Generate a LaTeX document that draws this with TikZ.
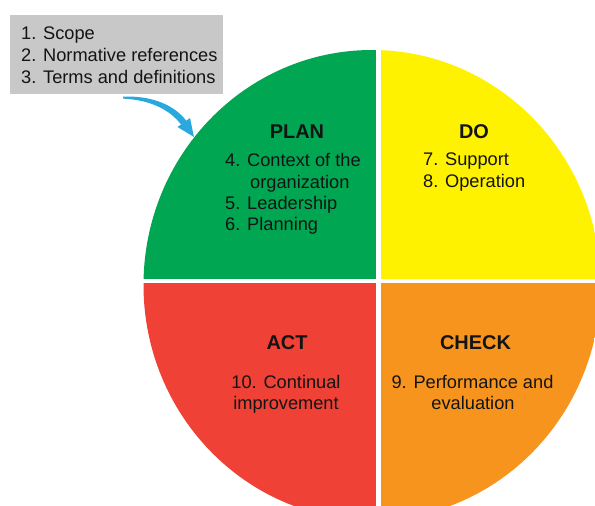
\documentclass[tikz,border=0pt]{standalone}
\usepackage{fontspec}
\setmainfont{Liberation Sans}
\definecolor{plangreen}{HTML}{00A651}
\definecolor{doyellow}{HTML}{FFF200}
\definecolor{actred}{HTML}{EF4136}
\definecolor{checkorange}{HTML}{F7941D}
\definecolor{boxgrey}{HTML}{C8C8C8}
\definecolor{arrowblue}{HTML}{29A8E0}
\definecolor{ink}{HTML}{141414}
\begin{document}
\begin{tikzpicture}[x=1bp,y=-1bp,
  heading/.style={font=\fontsize{20}{24}\selectfont\bfseries, text=ink, inner sep=0pt},
  body/.style={font=\fontsize{18.3}{22}\selectfont, text=ink, inner sep=0pt}]
\useasboundingbox (0,0) rectangle (595,506);
\clip (0,0) rectangle (595,506);

% four coloured quadrants of the PDCA disc
\begin{scope}
  \clip (372,285) circle[x radius=228.5, y radius=235];
  \fill[plangreen]   (100,0)   rectangle (378,281);
  \fill[doyellow]    (378,0)   rectangle (700,281);
  \fill[actred]      (100,281) rectangle (378,600);
  \fill[checkorange] (378,281) rectangle (700,600);
\end{scope}
% white gaps between the quadrants
\fill[white] (100,279) rectangle (700,283.2);
\fill[white] (376,0) rectangle (381,600);

% grey box with the first clauses
\node[fill=boxgrey, minimum width=213bp, minimum height=79bp, anchor=north west, inner sep=0pt] (box) at (10,15) {};
\node[body, anchor=base west] (c1) at (21,39.5) {1. Scope};
\node[body, anchor=base west] (c2) at (21,61.7) {2. Normative references};
\node[body, anchor=base west] (c3) at (21,84) {3. Terms and definitions};

% curved blue arrow from the box into the PLAN quadrant
\coordinate (astart) at (123,97.6);
\coordinate (tip) at (194,137);
\fill[arrowblue] (123,96.6) .. controls (154,95.5) and (175,106) .. (186.5,121)
  -- (181,124.5) .. controls (171,111) and (152,100) .. (123,98.6) -- cycle;
\fill[arrowblue] (190,118) -- (tip) -- (177.5,127) -- cycle;

% PLAN
\node[heading, anchor=base] (plan) at (297,138.5) {PLAN};
\node[body, anchor=base west] (p4) at (225,166.8) {4. Context of the};
\node[body, anchor=base west] (p4b) at (250,188.2) {organization};
\node[body, anchor=base west] (p5) at (225,209.6) {5. Leadership};
\node[body, anchor=base west] (p6) at (225,231) {6. Planning};

% DO
\node[heading, anchor=base] (do) at (474,138.5) {DO};
\node[body, anchor=base west] (d7) at (423,166) {7. Support};
\node[body, anchor=base west] (d8) at (423,187.4) {8. Operation};

% ACT
\node[heading, anchor=base] (act) at (287,349.5) {ACT};
\node[body, anchor=base] (a10) at (286,388.3) {10. Continual};
\node[body, anchor=base] (a10b) at (286,409.3) {improvement};

% CHECK
\node[heading, anchor=base] (check) at (475.5,349.5) {CHECK};
\node[body, anchor=base] (k9) at (472.5,388.3) {9. Performance and};
\node[body, anchor=base] (k9b) at (473,409.3) {evaluation};
\end{tikzpicture}
\end{document}
